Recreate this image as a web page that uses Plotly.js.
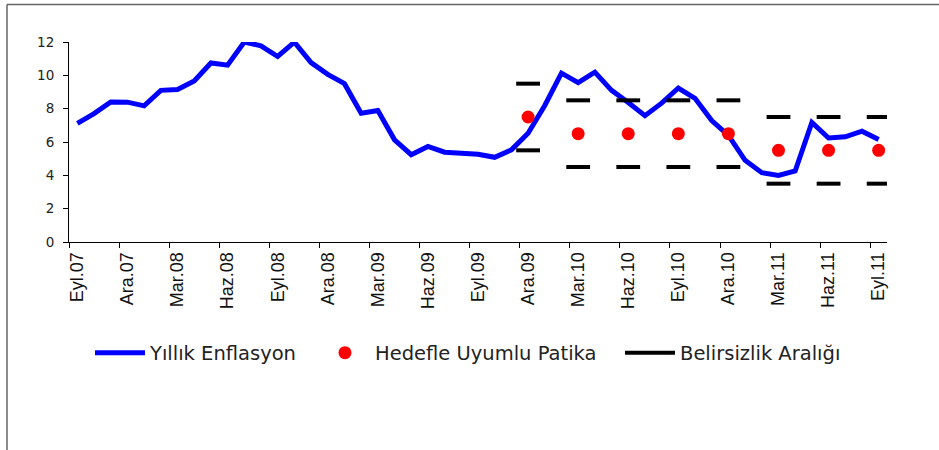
<!DOCTYPE html>
<html>
<head>
<meta charset="utf-8">
<script src="https://cdn.plot.ly/plotly-3.0.1.min.js"></script>
<style>
html,body{margin:0;padding:0;background:#fff;}
#chart{width:939px;height:450px;}
</style>
</head>
<body>
<div id="chart"></div>
<script>
// Months (Eyl.07 .. Eyl.11)
var months = [
  "Eyl.07","Eki.07","Kas.07","Ara.07",
  "Oca.08","Şub.08","Mar.08","Nis.08","May.08","Haz.08","Tem.08","Ağu.08","Eyl.08","Eki.08","Kas.08","Ara.08",
  "Oca.09","Şub.09","Mar.09","Nis.09","May.09","Haz.09","Tem.09","Ağu.09","Eyl.09","Eki.09","Kas.09","Ara.09",
  "Oca.10","Şub.10","Mar.10","Nis.10","May.10","Haz.10","Tem.10","Ağu.10","Eyl.10","Eki.10","Kas.10","Ara.10",
  "Oca.11","Şub.11","Mar.11","Nis.11","May.11","Haz.11","Tem.11","Ağu.11","Eyl.11"
];
// Yıllık Enflasyon (%)
var inflation = [
  7.12, 7.70, 8.40, 8.39,
  8.17, 9.10, 9.15, 9.66, 10.74, 10.61, 12.0, 11.77, 11.13, 11.99, 10.76, 10.06,
  9.50, 7.73, 7.89, 6.13, 5.24, 5.73, 5.39, 5.33, 5.27, 5.08, 5.53, 6.53,
  8.19, 10.13, 9.56, 10.19, 9.10, 8.37, 7.58, 8.33, 9.24, 8.62, 7.29, 6.40,
  4.90, 4.16, 3.99, 4.26, 7.17, 6.24, 6.31, 6.65, 6.15
];
// Hedefle Uyumlu Patika and Belirsizlik Aralığı
var pathMonths = ["Ara.09","Mar.10","Haz.10","Eyl.10","Ara.10","Mar.11","Haz.11","Eyl.11"];
var pathValues = [7.5, 6.5, 6.5, 6.5, 6.5, 5.5, 5.5, 5.5];
var upperBand  = [9.5, 8.5, 8.5, 8.5, 8.5, 7.5, 7.5, 7.5];
var lowerBand  = [5.5, 4.5, 4.5, 4.5, 4.5, 3.5, 3.5, 3.5];
// Tick labels (every third month)
var tickMonths = ["Eyl.07","Ara.07","Mar.08","Haz.08","Eyl.08","Ara.08","Mar.09","Haz.09","Eyl.09",
                  "Ara.09","Mar.10","Haz.10","Eyl.10","Ara.10","Mar.11","Haz.11","Eyl.11"];

var idx = function(m){ return months.indexOf(m); };
var xAll = months.map(function(m, i){ return i; });
var xPath = pathMonths.map(idx);

var traces = [
  {
    x: xAll, y: inflation, type: 'scatter', mode: 'lines',
    name: 'Yıllık Enflasyon',
    line: {color: '#0000FF', width: 5},
    legend: 'legend'
  },
  {
    x: xPath, y: pathValues, type: 'scatter', mode: 'markers',
    name: 'Hedefle Uyumlu Patika',
    marker: {color: '#FF0000', size: 13, symbol: 'circle'},
    legend: 'legend2'
  },
  {
    x: xPath.concat(xPath), y: upperBand.concat(lowerBand), type: 'scatter', mode: 'markers',
    name: 'Belirsizlik Aralığı',
    marker: {symbol: 'line-ew', size: 17, color: '#000', line: {color: '#000', width: 4}},
    showlegend: false
  },
  {
    // legend entry only for the uncertainty band
    x: [null], y: [null], type: 'scatter', mode: 'lines',
    name: 'Belirsizlik Aralığı',
    line: {color: '#000', width: 4},
    legend: 'legend3'
  }
];

var L = 69, R = 887, T = 42, B = 242;
function px2x(p){ return (p - L) / (R - L); }
function py2y(p){ return (B - p) / (B - T); }

var legFont = {family: 'DejaVu Sans, Verdana, sans-serif', size: 19.5, color: '#222'};
var legBase = {orientation: 'h', xanchor: 'left', yanchor: 'middle', y: py2y(353),
  font: legFont, bgcolor: 'rgba(0,0,0,0)', itemwidth: 50};

var layout = {
  width: 939, height: 450,
  margin: {l: L, r: 939 - R, t: T, b: 450 - B},
  paper_bgcolor: '#fff', plot_bgcolor: '#fff',
  showlegend: true,
  xaxis: {
    range: [-0.5, months.length - 0.5],
    tickmode: 'array',
    tickvals: tickMonths.map(idx),
    ticktext: tickMonths,
    tickangle: -90,
    ticks: '',
    ticklabelstandoff: 2,
    showgrid: false, zeroline: false,
    showline: true, linecolor: '#000', linewidth: 1,
    tickfont: {family: 'Liberation Sans', size: 18, color: '#111'},
    minor: {tick0: -0.5, dtick: 3, ticks: 'outside', ticklen: 5, tickcolor: '#000', tickwidth: 1, showgrid: false},
    fixedrange: true
  },
  yaxis: {
    range: [0, 12],
    tickmode: 'linear', tick0: 0, dtick: 2,
    ticks: 'outside', ticklen: 5, tickcolor: '#000',
    ticklabelstandoff: 6,
    showgrid: false, zeroline: false,
    showline: true, linecolor: '#000', linewidth: 1,
    tickfont: {family: 'DejaVu Sans, Verdana, sans-serif', size: 13.5, color: '#222'},
    fixedrange: true
  },
  legend: Object.assign({}, legBase, {x: px2x(90)}),
  legend2: Object.assign({}, legBase, {x: px2x(315)}),
  legend3: Object.assign({}, legBase, {x: px2x(620)}),
  shapes: [
    {type: 'line', xref: 'paper', yref: 'paper', x0: px2x(7), x1: px2x(945), y0: py2y(4.5), y1: py2y(4.5),
     line: {color: '#666', width: 1.5}},
    {type: 'line', xref: 'paper', yref: 'paper', x0: px2x(7), x1: px2x(7), y0: py2y(4.5), y1: py2y(455),
     line: {color: '#666', width: 1.5}}
  ]
};

Plotly.newPlot('chart', traces, layout, {displayModeBar: false, staticPlot: true});
</script>
</body>
</html>
